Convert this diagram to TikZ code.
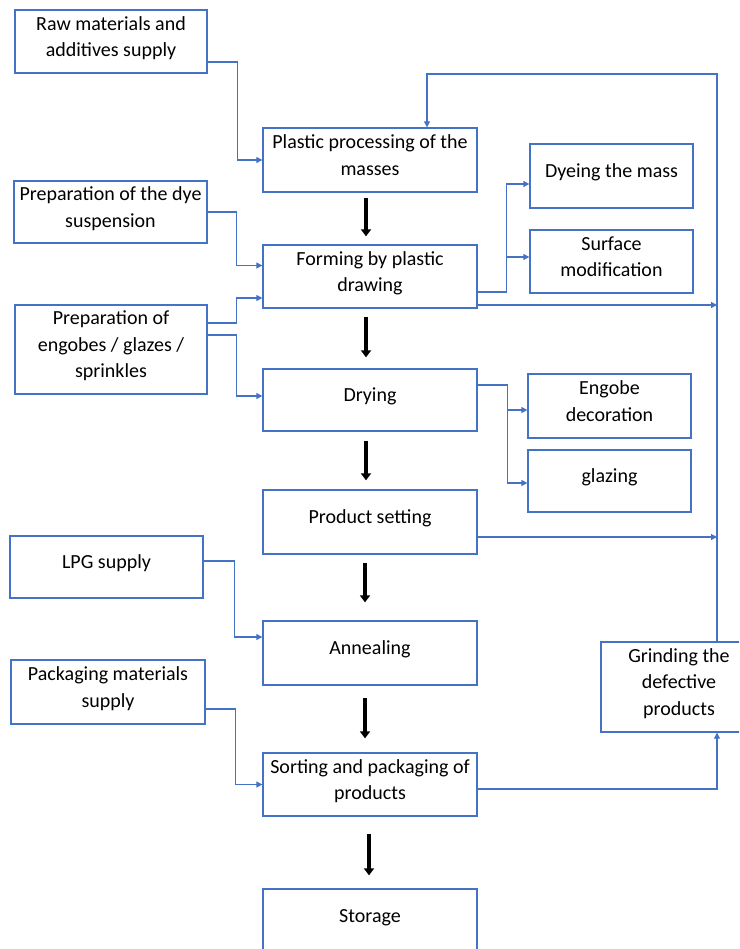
\documentclass[tikz,border=0pt]{standalone}
\usepackage{fontspec}
\setmainfont{Carlito}
\usepackage{tikz}
\usetikzlibrary{arrows.meta}
\definecolor{azul}{HTML}{4472C4}
\newcommand{\corA}{azul}
\newcommand{\corB}{black}
\tikzset{
  caixa/.style={draw=\corA, line width=1.3pt, align=center, inner sep=0pt,
    font=\fontsize{20}{26.5}\selectfont,
    execute at end node={\rule[-10pt]{0pt}{0pt}}},
  etapa/.style={caixa, minimum width=214pt, minimum height=63pt},
  liga/.style={draw=\corA, line width=1.1pt, -{Triangle[width=6pt,length=6pt]}},
  fluxo/.style={draw=\corB, line width=3.5pt, -{Triangle[width=10pt,length=7pt]}},
}

\begin{document}
\begin{tikzpicture}[x=1pt, y=-1pt]
        \useasboundingbox (0,0) rectangle (739,949);
        \clip (0,0) rectangle (739,949);

          % linha central
        \node[etapa, minimum height=64pt] (plast) at (370,160) {Plastic processing of the\\masses};
        \node[etapa] (form) at (370,276.5) {Forming by plastic\\drawing};
        \node[etapa, minimum height=62pt] (dry) at (370,400) {Drying};
        \node[etapa, minimum height=64pt] (setting) at (370,522) {Product setting};
        \node[etapa, minimum height=64pt] (anneal) at (370,653) {Annealing};
        \node[etapa] (sort) at (370,784.5) {Sorting and packaging of\\products};
        \node[etapa] (storage) at (370,920.5) {Storage};

          % entradas
        \node[caixa, minimum width=192pt, minimum height=63pt] (raw) at (111,41.5) {Raw materials and\\additives supply};
        \node[caixa, minimum width=193pt, minimum height=62pt] (prepdye) at (110.5,212) {Preparation of the dye\\suspension};
        \node[caixa, minimum width=192pt, minimum height=89pt] (engobes) at (111,349.5) {Preparation of\\engobes / glazes /\\sprinkles};
        \node[caixa, minimum width=193pt, minimum height=62pt] (lpg) at (106.5,567) {LPG supply};
        \node[caixa, minimum width=194pt, minimum height=64pt] (packmat) at (108,692) {Packaging materials\\supply};

          % ramos
        \node[caixa, minimum width=163pt, minimum height=64pt] (dye) at (611.5,176) {Dyeing the mass};
        \node[caixa, minimum width=163pt, minimum height=63pt] (surf) at (611.5,261.5) {Surface\\modification};
        \node[caixa, minimum width=163pt, minimum height=64pt] (engdec) at (609.5,406) {Engobe\\decoration};
        \node[caixa, minimum width=163pt, minimum height=62pt] (glaz) at (609.5,481) {glazing};
        \node[caixa, minimum width=156pt, minimum height=90pt] (grind) at (679,687) {Grinding the\\defective\\products};

        \coordinate (barra) at (717,74);

          % setas pretas
        \foreach \a/\b/\dx/\s/\e in {plast/form/-4/5/8, form/dry/-4/8/11, dry/setting/-4/9/9,
                                     setting/anneal/-5/8/18, anneal/sort/-5/12/14, sort/storage/-1/17/13}
          \draw[fluxo, shorten <=\s pt, shorten >=\e pt] ([xshift=\dx pt]\a.south) -- ([xshift=\dx pt]\b.north);

          % ligacoes azuis
        \draw[liga] ([yshift=-20.5pt]raw.east) -- ++(30,0) |- (plast.west);
        \draw[liga] (grind.north -| barra) -- (barra) -| ([xshift=57pt]plast.north);
        \draw[liga] (prepdye.east) -- ++(29,0) |- ([yshift=11pt]form.west);
        \draw[liga] ([yshift=-15.5pt]form.east) -- ++(29,0) coordinate (jf) |- ([yshift=-8pt]dye.west);
        \draw[liga] (jf) |- ([yshift=4.5pt]surf.west);
        \draw[liga] ([yshift=-28.5pt]form.east) -- ([yshift=-28.5pt]form.east -| barra);
        \draw[liga] ([yshift=26.5pt]engobes.east) -- ++(29,0) |- ([yshift=-21.5pt]form.west);
        \draw[liga] ([yshift=14.5pt]engobes.east) -- ++(29,0) |- ([yshift=4pt]dry.west);
        \draw[liga] ([yshift=15pt]dry.east) -- ++(30,0) coordinate (jd) |- ([yshift=-4pt]engdec.west);
        \draw[liga] (jd) |- ([yshift=-2pt]glaz.west);
        \draw[liga] ([yshift=-15pt]setting.east) -- ([yshift=-15pt]setting.east -| barra);
        \draw[liga] ([yshift=6pt]lpg.east) -- ++(31,0) |- ([yshift=16pt]anneal.west);
        \draw[liga] ([yshift=-17pt]packmat.east) -- ++(30,0) |- (sort.west);
        \draw[liga] ([yshift=-4.5pt]sort.east) -| (grind.south -| barra);
    \end{tikzpicture}
\end{document}
